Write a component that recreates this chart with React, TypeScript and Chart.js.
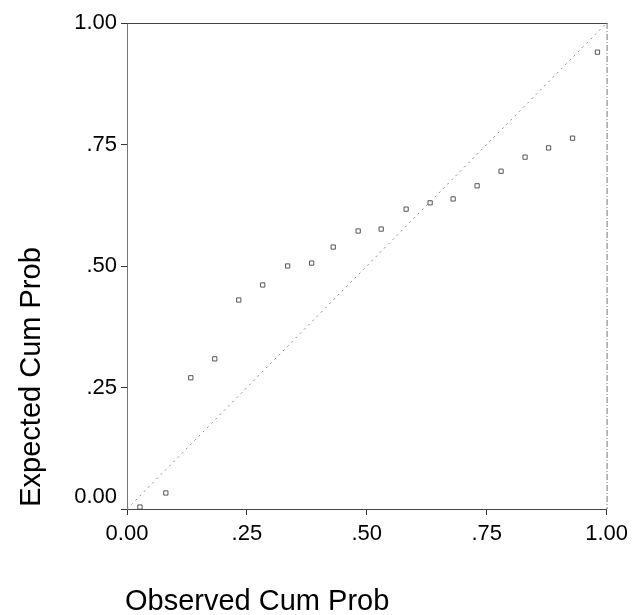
import React, { useEffect, useRef } from 'react';
import { Chart, registerables } from 'chart.js';

Chart.register(...registerables);

// Observed cumulative probability (x) and expected cumulative probability (y)
const observedCumProb = [
  0.027, 0.081, 0.133, 0.183, 0.233, 0.283, 0.335, 0.385, 0.43, 0.482,
  0.53, 0.582, 0.632, 0.68, 0.73, 0.78, 0.83, 0.879, 0.929, 0.981,
];
const expectedCumProb = [
  0.004, 0.033, 0.27, 0.309, 0.43, 0.461, 0.5, 0.506, 0.539, 0.572,
  0.576, 0.617, 0.63, 0.638, 0.665, 0.695, 0.724, 0.743, 0.763, 0.94,
];
const referenceX = [0, 1];
const referenceY = [0, 1];
const tickValues = [0, 0.25, 0.5, 0.75, 1];
const tickLabels = ['0.00', '.25', '.50', '.75', '1.00'];
const xTitle = 'Observed Cum Prob';
const yTitle = 'Expected Cum Prob';

const FONT = '"Liberation Sans", Arial, Helvetica, sans-serif';

const labelFor = (v: number) => {
  const i = tickValues.findIndex((t) => Math.abs(t - v) < 1e-9);
  return i >= 0 ? tickLabels[i] : '';
};

const framePlugin = {
  id: 'frameAndTitles',
  afterDraw(chart: any) {
    const { ctx, chartArea } = chart;
    const yScale = chart.scales.y;
    ctx.save();
    // top frame line (solid, dark)
    ctx.strokeStyle = '#444';
    ctx.lineWidth = 1;
    ctx.beginPath();
    ctx.moveTo(chartArea.left, chartArea.top + 0.5);
    ctx.lineTo(chartArea.right + 1, chartArea.top + 0.5);
    ctx.stroke();
    // right frame line (dash-dot, lighter)
    ctx.strokeStyle = '#777';
    ctx.setLineDash([6, 2, 1, 2]);
    ctx.beginPath();
    ctx.moveTo(chartArea.right + 0.5, chartArea.top);
    ctx.lineTo(chartArea.right + 0.5, chartArea.bottom);
    ctx.stroke();
    ctx.setLineDash([]);

    ctx.fillStyle = '#000';
    // bottom y-axis label, raised above the x axis as in the original
    ctx.font = `22px ${FONT}`;
    ctx.textAlign = 'right';
    ctx.textBaseline = 'middle';
    ctx.fillText(labelFor(tickValues[0]), 117, yScale.getPixelForValue(tickValues[0]) - 12);

    // axis titles
    ctx.font = `29px ${FONT}`;
    ctx.textAlign = 'left';
    ctx.textBaseline = 'alphabetic';
    ctx.fillText(xTitle, chartArea.left - 2, 610);

    ctx.translate(40, 377);
    ctx.rotate(-Math.PI / 2);
    ctx.textAlign = 'center';
    ctx.fillText(yTitle, 0, 0);
    ctx.restore();
  },
};

export default function App() {
  const canvasRef = useRef<HTMLCanvasElement | null>(null);

  useEffect(() => {
    if (!canvasRef.current) return;
    const chart = new Chart(canvasRef.current, {
      type: 'scatter',
      data: {
        datasets: [
          {
            type: 'line',
            label: 'Reference',
            data: referenceX.map((x, i) => ({ x, y: referenceY[i] })),
            borderColor: '#8a8a8a',
            borderWidth: 1,
            borderDash: [2, 4],
            pointRadius: 0,
            fill: false,
          },
          {
            type: 'scatter',
            label: 'Observed',
            data: observedCumProb.map((x, i) => ({ x, y: expectedCumProb[i] })),
            pointStyle: 'rect',
            pointRadius: 3,
            borderColor: '#555',
            borderWidth: 1,
            backgroundColor: 'rgba(255,255,255,0)',
          },
        ],
      } as any,
      plugins: [framePlugin],
      options: {
        animation: false,
        responsive: false,
        layout: { padding: { left: 0, top: 23, right: 27, bottom: 0 } },
        plugins: {
          legend: { display: false },
          tooltip: { enabled: false },
          title: { display: false },
        },
        scales: {
          x: {
            type: 'linear',
            min: 0,
            max: 1,
            afterBuildTicks: (scale: any) => {
              scale.ticks = tickValues.map((v) => ({ value: v }));
            },
            afterFit: (scale: any) => {
              scale.height = 106;
            },
            grid: { drawOnChartArea: false, drawTicks: true, tickLength: 6, color: '#333' },
            border: { display: true, color: '#444', width: 1 },
            ticks: {
              padding: 6,
              color: '#000',
              font: { family: FONT, size: 22 },
              maxRotation: 0,
              callback: (v: any) => labelFor(Number(v)),
            },
          },
          y: {
            type: 'linear',
            min: 0,
            max: 1,
            afterBuildTicks: (scale: any) => {
              scale.ticks = tickValues.map((v) => ({ value: v }));
            },
            afterFit: (scale: any) => {
              scale.width = 127;
            },
            grid: { drawOnChartArea: false, drawTicks: true, tickLength: 6, color: '#333' },
            border: { display: true, color: '#777', width: 1, dash: [6, 2, 1, 2] },
            ticks: {
              padding: 4,
              color: '#000',
              font: { family: FONT, size: 22 },
              callback: (v: any) => (Number(v) === tickValues[0] ? '' : labelFor(Number(v))),
            },
          },
        },
      } as any,
    });
    return () => chart.destroy();
  }, []);

  return (
    <div style={{ position: 'fixed', left: 0, top: 0, width: 634, height: 615, background: '#fff' }}>
      <canvas ref={canvasRef} width={634} height={615} />
    </div>
  );
}
